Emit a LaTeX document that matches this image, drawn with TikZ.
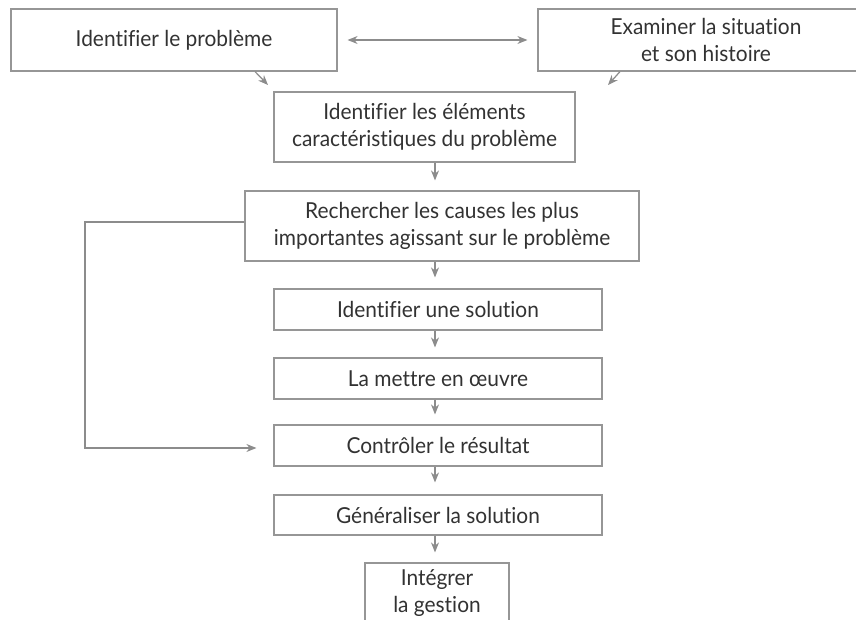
\documentclass[tikz,border=0pt]{standalone}
\usepackage{fontspec}
\setmainfont{Lato}[FakeStretch=0.95, Ligatures=NoCommon]
\usetikzlibrary{arrows.meta}
\definecolor{cadre}{RGB}{150,150,150}
\definecolor{trait}{RGB}{140,140,140}
\definecolor{texte}{RGB}{50,50,50}
\tikzset{
  etape/.style  = {draw=cadre, line width=1.2pt, text=texte, align=center,
                   font=\fontsize{22}{27}\selectfont, inner sep=0pt},
  % short gray arrows, they stop before the next box
  lien/.style   = {draw=trait, line width=1.2pt, -{Stealth[length=10pt,width=8pt]}},
  lien2/.style  = {lien, {Stealth[length=10pt,width=8pt]}-{Stealth[length=10pt,width=8pt]}},
}

\begin{document}
\begin{tikzpicture}[x=1pt, y=-1pt]
    \useasboundingbox (0,0) rectangle (856,620);

    \node[etape, minimum width=326pt, minimum height=62pt] (p) at (174,40) {Identifier le problème};
    \node[etape, minimum width=336pt, minimum height=62pt] (e) at (706,40)
      {Examiner la situation\\et son histoire};

    \node[etape, minimum width=301pt, minimum height=70pt] (b3) at (424.5,127)
      {Identifier les éléments\\caractéristiques du problème};
    \node[etape, minimum width=394pt, minimum height=70pt] (b4) at (442,226)
      {Rechercher les causes les plus\\importantes agissant sur le problème};
    \node[etape, minimum width=328pt, minimum height=41pt] (b5) at (438,309.5) {Identifier une solution};
    \node[etape, minimum width=328pt, minimum height=41pt] (b6) at (438,378.5) {La mettre en œuvre};
    \node[etape, minimum width=328pt, minimum height=41pt] (b7) at (438,445.5) {Contrôler le résultat};
    \node[etape, minimum width=328pt, minimum height=40pt] (b8) at (438,515) {Généraliser la solution};
    \node[etape, minimum width=144pt, minimum height=60pt] (b9) at (437,593) {Intégrer\\la gestion};

    \coordinate (ax) at (435,0);
    \coordinate (d1) at (268,85);
    \coordinate (d2) at (608,85);
    \coordinate (fb) at (85,0);

    \draw[lien2, shorten <=10pt, shorten >=10pt] (p.east) -- (e.west);
    \draw[lien] ([xshift=81pt]p.south) -- (d1);
    \draw[lien] ([xshift=-86pt]e.south) -- (d2);

    \draw[lien, shorten >=10pt] (b3.south -| ax) -- (b4.north -| ax);
    \draw[lien, shorten >=11pt] (b4.south -| ax) -- (b5.north -| ax);
    \draw[lien, shorten >=10pt] (b5.south -| ax) -- (b6.north -| ax);
    \draw[lien, shorten >=10pt] (b6.south -| ax) -- (b7.north -| ax);
    \draw[lien, shorten >=12pt] (b7.south -| ax) -- (b8.north -| ax);
    \draw[lien, shorten >=10pt] (b8.south -| ax) -- (b9.north -| ax);

    \draw[lien, shorten >=17pt] ([yshift=4pt]b4.west) -- ([yshift=4pt]b4.west -| fb)
      |- ([yshift=-2.5pt]b7.west);
  \end{tikzpicture}
\end{document}
